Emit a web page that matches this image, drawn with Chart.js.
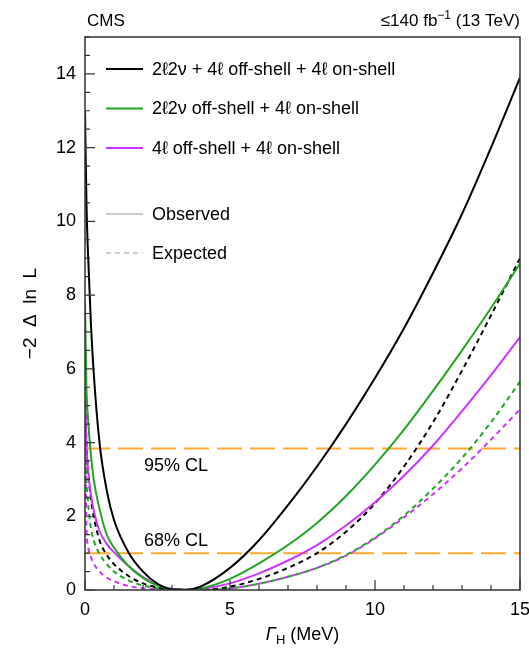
<!DOCTYPE html>
<html>
<head>
<meta charset="utf-8">
<script src="https://cdn.jsdelivr.net/npm/chart.js@4.4.0/dist/chart.umd.min.js"></script>
<style>
html,body{margin:0;padding:0;background:#fff;}
#wrap{width:529px;height:648px;position:relative;}
</style>
</head>
<body>
<div id="wrap"><canvas id="c" width="529" height="648"></canvas></div>
<script>
// ---- data ----
const gammaH = [0, 0.05, 0.1, 0.2, 0.3, 0.5, 0.75, 1, 1.5, 2, 2.5, 3, 3.5, 4, 5, 6, 7, 8, 9, 10, 11, 12, 13, 14, 15];
const obsCombined = [13.0, 10.5, 9.2, 7.3, 5.9, 4.0, 2.7, 1.9, 1.02, 0.5, 0.17, 0.02, 0.01, 0.1, 0.6, 1.35, 2.3, 3.35, 4.5, 5.75, 7.1, 8.6, 10.2, 12.0, 13.9];
const obs2l2nu    = [7.8, 5.5, 4.7, 3.7, 3.0, 2.2, 1.5, 1.15, 0.65, 0.33, 0.12, 0.02, 0.0, 0.04, 0.3, 0.72, 1.22, 1.82, 2.55, 3.4, 4.35, 5.4, 6.5, 7.65, 8.85];
const obs4l       = [5.4, 3.9, 3.3, 2.6, 2.15, 1.6, 1.25, 1.02, 0.65, 0.35, 0.14, 0.03, 0.0, 0.03, 0.18, 0.45, 0.8, 1.22, 1.75, 2.38, 3.1, 3.92, 4.85, 5.83, 6.86];
const expCombined = [5.5, 4.0, 3.3, 2.5, 2.0, 1.35, 0.95, 0.7, 0.38, 0.18, 0.07, 0.02, 0.005, 0.0, 0.09, 0.3, 0.6, 1.0, 1.58, 2.35, 3.35, 4.55, 5.95, 7.45, 9.0];
const exp2l2nu    = [4.5, 3.0, 2.4, 1.7, 1.35, 0.98, 0.7, 0.5, 0.26, 0.12, 0.05, 0.015, 0.003, 0.0, 0.04, 0.17, 0.36, 0.6, 0.95, 1.42, 2.02, 2.75, 3.58, 4.55, 5.65];
const exp4l       = [5.3, 1.75, 1.2, 0.9, 0.72, 0.5, 0.34, 0.24, 0.11, 0.05, 0.02, 0.005, 0.001, 0.0, 0.04, 0.17, 0.36, 0.6, 0.93, 1.4, 1.97, 2.6, 3.3, 4.08, 4.9];
const clLevels = [1, 3.84];
const clLabels = ['68% CL', '95% CL'];
const legendLabels = ['2ℓ2ν + 4ℓ off-shell + 4ℓ on-shell', '2ℓ2ν off-shell + 4ℓ on-shell', '4ℓ off-shell + 4ℓ on-shell'];
const styleLabels = ['Observed', 'Expected'];

// ---- styling ----
const FONT = "'Liberation Sans', Arial, Helvetica, sans-serif";
const BLACK = '#000000', GREEN = '#22a522', MAGENTA = '#cc33ff', ORANGE = '#ffaa33', LGRAY = '#cccccc';
const DASH = [5, 4];
Chart.defaults.font.family = FONT;
Chart.defaults.color = '#000';

const series = ys => gammaH.map((x, i) => ({x: x, y: ys[i]}));
const xMin = gammaH[0], xMax = gammaH[gammaH.length - 1];

const curve = (ys, color, dashed) => ({
  data: series(ys), borderColor: color, borderWidth: 2, borderDash: dashed ? DASH : [],
  pointRadius: 0, fill: false, cubicInterpolationMode: 'monotone', order: dashed ? 2 : 1
});

const datasets = [
  curve(obsCombined, BLACK, false),
  curve(obs2l2nu, GREEN, false),
  curve(obs4l, MAGENTA, false),
  curve(expCombined, BLACK, true),
  curve(exp2l2nu, GREEN, true),
  curve(exp4l, MAGENTA, true),
  ...clLevels.map(v => ({
    data: [{x: xMin, y: v}, {x: xMax, y: v}], borderColor: ORANGE, borderWidth: 2,
    borderDash: [25, 8], pointRadius: 0, fill: false, order: 10
  }))
];

const decor = {
  id: 'decor',
  afterDraw(chart) {
    const {ctx, chartArea: a, scales: {x, y}} = chart;
    ctx.save();
    // frame
    ctx.strokeStyle = '#333'; ctx.lineWidth = 1.5; ctx.setLineDash([]);
    ctx.strokeRect(a.left, a.top, a.right - a.left, a.bottom - a.top);
    // ticks (inside)
    ctx.lineWidth = 1.2;
    ctx.beginPath();
    for (let k = 0; k <= 30; k++) {
      const v = k * 0.5;
      const py = y.getPixelForValue(v);
      const len = (k % 4 === 0) ? 10 : 5;
      ctx.moveTo(a.left, py); ctx.lineTo(a.left + len, py);
    }
    for (let k = 0; k <= 15; k++) {
      const px = x.getPixelForValue(k);
      const len = (k % 5 === 0) ? 10 : 5;
      ctx.moveTo(px, a.bottom); ctx.lineTo(px, a.bottom - len);
    }
    ctx.stroke();

    ctx.fillStyle = '#000';
    // header
    ctx.font = `17px ${FONT}`;
    ctx.textBaseline = 'alphabetic';
    ctx.textAlign = 'left';
    ctx.fillText('CMS', a.left + 2, 26);
    const p1 = '≤140 fb', sup = '−1', p2 = ' (13 TeV)';
    ctx.font = `17px ${FONT}`;
    const w1 = ctx.measureText(p1).width, w3 = ctx.measureText(p2).width;
    ctx.font = `12px ${FONT}`;
    const w2 = ctx.measureText(sup).width;
    let sx = a.right - (w1 + w2 + w3);
    ctx.font = `17px ${FONT}`; ctx.fillText(p1, sx, 26); sx += w1;
    ctx.font = `12px ${FONT}`; ctx.fillText(sup, sx, 19); sx += w2;
    ctx.font = `17px ${FONT}`; ctx.fillText(p2, sx, 26);

    // legend
    const rows = [
      {y: 69, color: BLACK, dash: [], text: legendLabels[0]},
      {y: 108.5, color: GREEN, dash: [], text: legendLabels[1]},
      {y: 148, color: MAGENTA, dash: [], text: legendLabels[2]},
      {y: 214, color: LGRAY, dash: [], text: styleLabels[0]},
      {y: 253, color: LGRAY, dash: DASH, text: styleLabels[1]}
    ];
    ctx.font = `18px ${FONT}`;
    ctx.textBaseline = 'middle';
    rows.forEach(r => {
      ctx.strokeStyle = r.color; ctx.lineWidth = 2; ctx.setLineDash(r.dash);
      ctx.beginPath(); ctx.moveTo(106, r.y); ctx.lineTo(143, r.y); ctx.stroke();
      ctx.fillStyle = '#000';
      ctx.fillText(r.text, 152, r.y + 1);
    });
    ctx.setLineDash([]);

    // CL labels
    ctx.textBaseline = 'alphabetic';
    ctx.font = `18px ${FONT}`;
    ctx.fillText(clLabels[0], 144, y.getPixelForValue(clLevels[0]) - 7);
    ctx.fillText(clLabels[1], 144, y.getPixelForValue(clLevels[1]) + 23);

    // x axis title: italic Gamma with subscript H
    const t1 = 'Γ', t2 = 'H', t3 = ' (MeV)';
    ctx.font = `italic 18px ${FONT}`; const g1 = ctx.measureText(t1).width;
    ctx.font = `13px ${FONT}`; const g2 = ctx.measureText(t2).width;
    ctx.font = `18px ${FONT}`; const g3 = ctx.measureText(t3).width;
    let tx = (a.left + a.right) / 2 - (g1 + g2 + g3) / 2;
    const ty = 640;
    ctx.font = `italic 18px ${FONT}`; ctx.fillText(t1, tx, ty); tx += g1;
    ctx.font = `13px ${FONT}`; ctx.fillText(t2, tx, ty + 4); tx += g2;
    ctx.font = `18px ${FONT}`; ctx.fillText(t3, tx, ty);
    ctx.restore();
  }
};

new Chart(document.getElementById('c'), {
  type: 'line',
  data: {datasets},
  options: {
    responsive: false,
    animation: false,
    devicePixelRatio: 1,
    layout: {padding: {left: 0, right: 9, top: 37, bottom: 0}},
    plugins: {legend: {display: false}, tooltip: {enabled: false}},
    scales: {
      x: {
        type: 'linear', min: 0, max: 15,
        grid: {display: false, drawTicks: false}, border: {display: false},
        ticks: {stepSize: 5, padding: 9, font: {size: 18}, color: '#000', maxRotation: 0, includeBounds: false},
        afterFit: s => { s.height = 58; s.paddingLeft = 0; s.paddingRight = 0; }
      },
      y: {
        type: 'linear', min: 0, max: 15,
        grid: {display: false, drawTicks: false}, border: {display: false},
        ticks: {stepSize: 2, padding: 9, font: {size: 18}, color: '#000', includeBounds: false},
        title: {display: true, text: '−2  Δ  ln  L', font: {size: 19}, color: '#000', padding: {top: 19, bottom: 0}},
        afterFit: s => { s.width = 85; s.paddingTop = 0; s.paddingBottom = 0; }
      }
    }
  },
  plugins: [decor]
});
</script>
</body>
</html>
